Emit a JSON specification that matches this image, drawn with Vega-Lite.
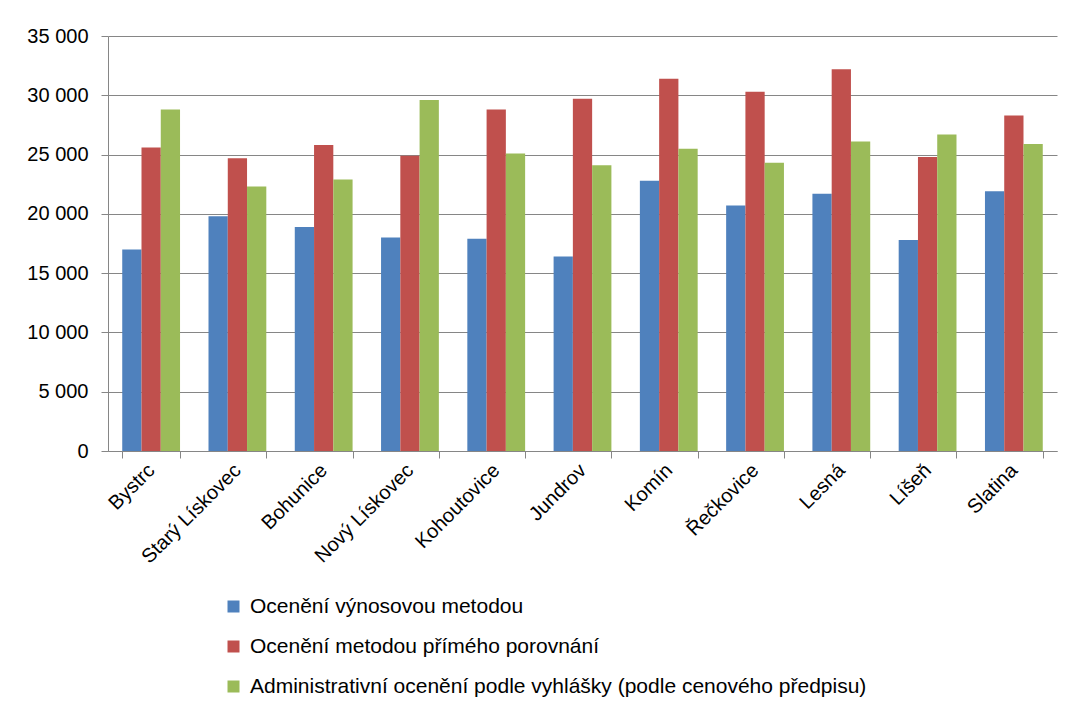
{
  "$schema": "https://vega.github.io/schema/vega-lite/v6.json",
  "width": 949,
  "height": 415,
  "autosize": {"type": "none"},
  "padding": {"left": 108, "top": 36, "right": 12, "bottom": 255},
  "background": "white",
  "data": {"values": [
    {"district": "Bystrc", "method": "Ocenění výnosovou metodou", "value": 17000},
    {"district": "Bystrc", "method": "Ocenění metodou přímého porovnání", "value": 25600},
    {"district": "Bystrc", "method": "Administrativní ocenění podle vyhlášky (podle cenového předpisu)", "value": 28800},
    {"district": "Starý Lískovec", "method": "Ocenění výnosovou metodou", "value": 19800},
    {"district": "Starý Lískovec", "method": "Ocenění metodou přímého porovnání", "value": 24700},
    {"district": "Starý Lískovec", "method": "Administrativní ocenění podle vyhlášky (podle cenového předpisu)", "value": 22300},
    {"district": "Bohunice", "method": "Ocenění výnosovou metodou", "value": 18900},
    {"district": "Bohunice", "method": "Ocenění metodou přímého porovnání", "value": 25800},
    {"district": "Bohunice", "method": "Administrativní ocenění podle vyhlášky (podle cenového předpisu)", "value": 22900},
    {"district": "Nový Lískovec", "method": "Ocenění výnosovou metodou", "value": 18000},
    {"district": "Nový Lískovec", "method": "Ocenění metodou přímého porovnání", "value": 24900},
    {"district": "Nový Lískovec", "method": "Administrativní ocenění podle vyhlášky (podle cenového předpisu)", "value": 29600},
    {"district": "Kohoutovice", "method": "Ocenění výnosovou metodou", "value": 17900},
    {"district": "Kohoutovice", "method": "Ocenění metodou přímého porovnání", "value": 28800},
    {"district": "Kohoutovice", "method": "Administrativní ocenění podle vyhlášky (podle cenového předpisu)", "value": 25100},
    {"district": "Jundrov", "method": "Ocenění výnosovou metodou", "value": 16400},
    {"district": "Jundrov", "method": "Ocenění metodou přímého porovnání", "value": 29700},
    {"district": "Jundrov", "method": "Administrativní ocenění podle vyhlášky (podle cenového předpisu)", "value": 24100},
    {"district": "Komín", "method": "Ocenění výnosovou metodou", "value": 22800},
    {"district": "Komín", "method": "Ocenění metodou přímého porovnání", "value": 31400},
    {"district": "Komín", "method": "Administrativní ocenění podle vyhlášky (podle cenového předpisu)", "value": 25500},
    {"district": "Řečkovice", "method": "Ocenění výnosovou metodou", "value": 20700},
    {"district": "Řečkovice", "method": "Ocenění metodou přímého porovnání", "value": 30300},
    {"district": "Řečkovice", "method": "Administrativní ocenění podle vyhlášky (podle cenového předpisu)", "value": 24300},
    {"district": "Lesná", "method": "Ocenění výnosovou metodou", "value": 21700},
    {"district": "Lesná", "method": "Ocenění metodou přímého porovnání", "value": 32200},
    {"district": "Lesná", "method": "Administrativní ocenění podle vyhlášky (podle cenového předpisu)", "value": 26100},
    {"district": "Líšeň", "method": "Ocenění výnosovou metodou", "value": 17800},
    {"district": "Líšeň", "method": "Ocenění metodou přímého porovnání", "value": 24800},
    {"district": "Líšeň", "method": "Administrativní ocenění podle vyhlášky (podle cenového předpisu)", "value": 26700},
    {"district": "Slatina", "method": "Ocenění výnosovou metodou", "value": 21900},
    {"district": "Slatina", "method": "Ocenění metodou přímého porovnání", "value": 28300},
    {"district": "Slatina", "method": "Administrativní ocenění podle vyhlášky (podle cenového předpisu)", "value": 25900}
  ]},
  "mark": {"type": "bar"},
  "encoding": {
    "x": {
      "field": "district", "type": "nominal", "sort": null,
      "scale": {"paddingInner": 0.33, "paddingOuter": 0.165},
      "axis": {
        "title": null, "labelAngle": -45, "labelAlign": "right", "labelBaseline": "middle",
        "tickBand": "extent", "grid": false, "labelFontSize": 20, "labelPadding": 9,
        "tickSize": 7, "domainColor": "#868686", "tickColor": "#868686", "labelColor": "#000000"
      }
    },
    "xOffset": {"field": "method", "type": "nominal", "sort": null, "scale": {"paddingInner": 0, "paddingOuter": 0}},
    "y": {
      "field": "value", "type": "quantitative",
      "scale": {"domain": [0, 35000]},
      "axis": {
        "title": null,
        "values": [0, 5000, 10000, 15000, 20000, 25000, 30000, 35000],
        "labelExpr": "replace(format(datum.value, ','), ',', ' ')",
        "grid": true, "gridColor": "#868686", "domainColor": "#868686", "tickColor": "#868686",
        "tickSize": 7, "labelPadding": 13, "labelFontSize": 20, "labelColor": "#000000"
      }
    },
    "color": {
      "field": "method", "type": "nominal", "sort": null,
      "scale": {
        "domain": ["Ocenění výnosovou metodou", "Ocenění metodou přímého porovnání", "Administrativní ocenění podle vyhlášky (podle cenového předpisu)"],
        "range": ["#4F81BD", "#C0504D", "#9BBB59"]
      },
      "legend": {
        "title": null, "orient": "none", "legendX": 115, "legendY": 560, "direction": "vertical",
        "symbolType": "square", "symbolSize": 144, "symbolStrokeWidth": 0,
        "labelFontSize": 21, "labelColor": "#000000", "rowPadding": 18, "labelOffset": 6, "labelLimit": 900
      }
    }
  },
  "config": {"font": "Liberation Sans", "view": {"stroke": null}}
}
